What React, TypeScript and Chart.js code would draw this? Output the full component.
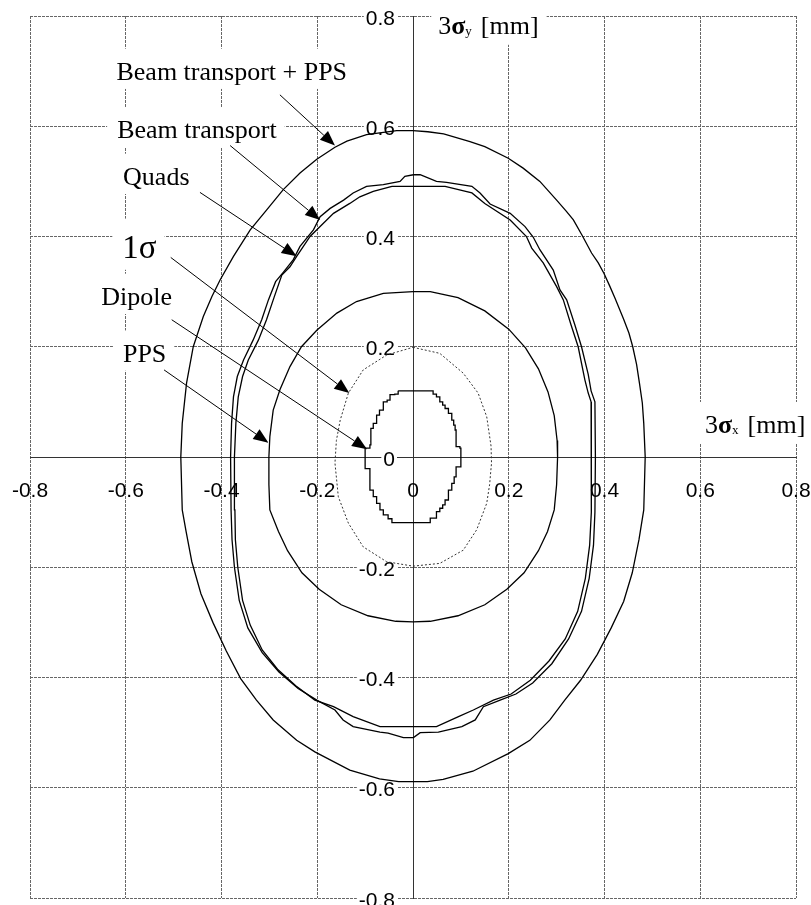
import React, { useEffect, useRef } from 'react';
import { Chart, registerables } from 'chart.js';

Chart.register(...registerables);

// ---------- data (values in mm) ----------
const beamTransportPPS: number[][] = [
  [0, 0.592], [0.031, 0.590], [0.064, 0.586], [0.119, 0.572], [0.150, 0.563], [0.199, 0.542],
  [0.230, 0.524], [0.265, 0.500], [0.300, 0.466], [0.320, 0.446], [0.335, 0.430], [0.354, 0.401],
  [0.373, 0.370], [0.387, 0.352], [0.399, 0.333], [0.411, 0.310], [0.422, 0.288], [0.440, 0.250],
  [0.451, 0.225], [0.459, 0.200], [0.467, 0.168], [0.473, 0.134], [0.479, 0.098], [0.482, 0.061],
  [0.485, 0.000], [0.482, -0.096], [0.472, -0.150], [0.458, -0.210], [0.440, -0.262], [0.414, -0.310],
  [0.385, -0.358], [0.350, -0.405], [0.317, -0.441], [0.286, -0.477], [0.244, -0.514], [0.199, -0.538],
  [0.125, -0.570], [0.063, -0.585], [0.030, -0.589], [-0.030, -0.589], [-0.070, -0.584], [-0.132, -0.568],
  [-0.205, -0.535], [-0.243, -0.514], [-0.292, -0.477], [-0.327, -0.441], [-0.360, -0.402], [-0.390, -0.352],
  [-0.418, -0.300], [-0.443, -0.248], [-0.462, -0.190], [-0.474, -0.135], [-0.482, -0.096], [-0.485, 0.000],
  [-0.482, 0.061], [-0.473, 0.134], [-0.459, 0.200], [-0.438, 0.255], [-0.420, 0.291], [-0.403, 0.321],
  [-0.375, 0.364], [-0.340, 0.412], [-0.306, 0.448], [-0.271, 0.485], [-0.236, 0.515], [-0.201, 0.540],
  [-0.163, 0.562], [-0.138, 0.573], [-0.097, 0.585], [-0.034, 0.592], [0, 0.592],
];

const beamTransport: number[][] = [
  [0.001, 0.512], [0.015, 0.512], [0.049, 0.500], [0.070, 0.498], [0.123, 0.491], [0.140, 0.479],
  [0.161, 0.459], [0.203, 0.442], [0.234, 0.418], [0.251, 0.399], [0.265, 0.376], [0.293, 0.339],
  [0.307, 0.303], [0.321, 0.285], [0.338, 0.240], [0.352, 0.200], [0.366, 0.150], [0.372, 0.120],
  [0.380, 0.100], [0.381, 0.000], [0.380, -0.100], [0.377, -0.160], [0.368, -0.220], [0.352, -0.280],
  [0.325, -0.330], [0.290, -0.375], [0.250, -0.410], [0.215, -0.430], [0.182, -0.441], [0.147, -0.453],
  [0.130, -0.477], [0.102, -0.489], [0.053, -0.499], [0.015, -0.500], [0.001, -0.509], [-0.020, -0.509],
  [-0.052, -0.501], [-0.069, -0.499], [-0.125, -0.489], [-0.146, -0.477], [-0.163, -0.459], [-0.201, -0.441],
  [-0.240, -0.420], [-0.280, -0.390], [-0.315, -0.355], [-0.345, -0.310], [-0.363, -0.260], [-0.373, -0.200],
  [-0.378, -0.150], [-0.380, -0.096], [-0.381, 0.000], [-0.379, 0.061], [-0.375, 0.109], [-0.367, 0.146],
  [-0.354, 0.176], [-0.334, 0.212], [-0.316, 0.249], [-0.302, 0.285], [-0.287, 0.318], [-0.271, 0.335],
  [-0.250, 0.358], [-0.236, 0.382], [-0.208, 0.412], [-0.194, 0.436], [-0.173, 0.451], [-0.145, 0.466],
  [-0.125, 0.479], [-0.097, 0.491], [-0.062, 0.494], [-0.027, 0.500], [-0.017, 0.509], [0.001, 0.512],
];

const quads: number[][] = [
  [-0.044, 0.491], [0.067, 0.491], [0.123, 0.479], [0.150, 0.460], [0.203, 0.430], [0.237, 0.400],
  [0.248, 0.379], [0.272, 0.352], [0.300, 0.309], [0.314, 0.285], [0.330, 0.240], [0.345, 0.200],
  [0.359, 0.140], [0.366, 0.116], [0.372, 0.100], [0.373, 0.000], [0.372, -0.100], [0.369, -0.160],
  [0.360, -0.220], [0.344, -0.280], [0.318, -0.330], [0.284, -0.370], [0.245, -0.405], [0.205, -0.430],
  [0.168, -0.441], [0.126, -0.459], [0.095, -0.471], [0.049, -0.489], [-0.069, -0.489], [-0.125, -0.471],
  [-0.166, -0.453], [-0.205, -0.441], [-0.245, -0.415], [-0.283, -0.385], [-0.315, -0.350], [-0.340, -0.305],
  [-0.356, -0.260], [-0.366, -0.200], [-0.371, -0.150], [-0.372, -0.096], [-0.373, 0.000], [-0.370, 0.061],
  [-0.365, 0.109], [-0.356, 0.146], [-0.344, 0.176], [-0.323, 0.212], [-0.306, 0.249], [-0.290, 0.290],
  [-0.274, 0.330], [-0.257, 0.345], [-0.243, 0.364], [-0.215, 0.400], [-0.194, 0.418], [-0.166, 0.442],
  [-0.132, 0.460], [-0.111, 0.472], [-0.083, 0.482], [-0.044, 0.491],
];

const pps: number[][] = [
  [0, 0.300], [0.036, 0.300], [0.094, 0.289], [0.150, 0.265], [0.200, 0.232], [0.235, 0.198],
  [0.262, 0.160], [0.282, 0.118], [0.295, 0.075], [0.301, 0.030], [0.302, 0.000], [0.300, -0.050],
  [0.295, -0.096], [0.281, -0.135], [0.262, -0.170], [0.232, -0.210], [0.196, -0.240], [0.150, -0.268],
  [0.094, -0.288], [0.036, -0.298], [0, -0.299], [-0.036, -0.298], [-0.094, -0.288], [-0.150, -0.268],
  [-0.196, -0.240], [-0.232, -0.210], [-0.262, -0.170], [-0.281, -0.135], [-0.299, -0.096], [-0.301, -0.050],
  [-0.301, 0.000], [-0.299, 0.037], [-0.292, 0.085], [-0.278, 0.122], [-0.257, 0.164], [-0.233, 0.200],
  [-0.201, 0.230], [-0.159, 0.261], [-0.118, 0.282], [-0.062, 0.297], [0, 0.300],
];

const oneSigma: number[][] = [
  [0, 0.199], [0.056, 0.188], [0.105, 0.152], [0.136, 0.116], [0.154, 0.073], [0.163, 0.020],
  [0.164, -0.011], [0.160, -0.050], [0.154, -0.084], [0.133, -0.132], [0.105, -0.169], [0.056, -0.193],
  [0, -0.198], [-0.055, -0.190], [-0.104, -0.163], [-0.135, -0.120], [-0.156, -0.072], [-0.163, -0.011],
  [-0.160, 0.030], [-0.152, 0.067], [-0.135, 0.116], [-0.104, 0.158], [-0.055, 0.185], [0, 0.199],
];

const dipole: number[][] = [
  [-0.031, 0.120], [0.032, 0.120], [0.042, 0.114], [0.049, 0.109], [0.056, 0.100], [0.062, 0.094],
  [0.067, 0.088], [0.074, 0.079], [0.081, 0.067], [0.085, 0.058], [0.088, 0.049], [0.090, 0.019],
  [0.098, 0.016], [0.100, -0.018], [0.090, -0.021], [0.090, -0.036], [0.086, -0.048], [0.081, -0.060],
  [0.074, -0.078], [0.067, -0.087], [0.062, -0.093], [0.056, -0.099], [0.049, -0.111], [0.036, -0.119],
  [-0.034, -0.119], [-0.044, -0.112], [-0.052, -0.105], [-0.062, -0.096], [-0.069, -0.084], [-0.076, -0.072],
  [-0.083, -0.060], [-0.090, -0.054], [-0.090, -0.021], [-0.100, -0.018], [-0.100, 0.016], [-0.090, 0.022],
  [-0.088, 0.052], [-0.083, 0.061], [-0.076, 0.076], [-0.070, 0.085], [-0.062, 0.088], [-0.062, 0.100],
  [-0.054, 0.103], [-0.048, 0.113], [-0.038, 0.114], [-0.031, 0.120],
];

const xTickValues = [-0.8, -0.6, -0.4, -0.2, 0, 0.2, 0.4, 0.6, 0.8];
const xTickLabels = ['-0.8', '-0.6', '-0.4', '-0.2', '0', '0.2', '0.4', '0.6', '0.8'];
const yTickValues = [0.8, 0.6, 0.4, 0.2, 0, -0.2, -0.4, -0.6, -0.8];
const yTickLabels = ['0.8', '0.6', '0.4', '0.2', '0', '-0.2', '-0.4', '-0.6', '-0.8'];

// annotation texts and arrows (anchors in data units)
const annotationTexts = ['Beam transport + PPS', 'Beam transport', 'Quads', '1σ', 'Dipole', 'PPS'];
const annotationX = [-0.6194, -0.6180, -0.6056, -0.6072, -0.6510, -0.6059];
const annotationY = [0.6842, 0.5784, 0.4936, 0.3606, 0.2759, 0.1730];
const annotationSize = [26, 26, 26, 33, 26, 26];
const arrowFrom = [[-0.278, 0.657], [-0.382, 0.565], [-0.445, 0.480], [-0.506, 0.362], [-0.504, 0.249], [-0.520, 0.158]];
const arrowTo = [[-0.163, 0.565], [-0.194, 0.430], [-0.243, 0.364], [-0.133, 0.116], [-0.096, 0.014], [-0.302, 0.026]];

const axisTitleSub = ['y', 'x'];
const axisTitleX = [0.0527, 0.6097];
const axisTitleY = [0.7677, 0.0436];

const TICK_FONT = '21px "Liberation Sans", Arial, sans-serif';
const SERIF = '"Liberation Serif", "Times New Roman", serif';

const pts = (a: number[][]) => a.map(([x, y]) => ({ x, y }));

const annotationPlugin = {
  id: 'annotations',
  beforeDatasetsDraw(chart: any) {
    const { ctx } = chart;
    const xs = chart.scales.x;
    const ys = chart.scales.y;
    const px = (v: number) => xs.getPixelForValue(v);
    const py = (v: number) => ys.getPixelForValue(v);
    const x0 = px(0);
    const y0 = py(0);
    ctx.save();
    ctx.font = TICK_FONT;
    ctx.textBaseline = 'alphabetic';
    // y tick labels with tight backdrop
    yTickValues.forEach((v, i) => {
      const t = yTickLabels[i];
      const w = ctx.measureText(t).width;
      const right = x0 - 18;
      const base = py(v) + 8.5;
      ctx.fillStyle = '#fff';
      ctx.fillRect(right - w - 2, base - 16, w + 4, 19);
      ctx.fillStyle = '#000';
      ctx.textAlign = 'right';
      ctx.fillText(t, right, base);
    });
    // x tick labels
    ctx.textAlign = 'center';
    ctx.fillStyle = '#000';
    xTickValues.forEach((v, i) => {
      ctx.fillText(xTickLabels[i], px(v), y0 + 40);
    });
    // annotation texts with white boxes
    ctx.textAlign = 'left';
    annotationTexts.forEach((t, i) => {
      const fs = annotationSize[i];
      ctx.font = `${fs}px ${SERIF}`;
      const w = ctx.measureText(t).width;
      const lx = px(annotationX[i]);
      const base = py(annotationY[i]);
      ctx.fillStyle = '#fff';
      ctx.fillRect(lx - 10, base - 1.2 * fs, w + 18, 1.55 * fs);
      ctx.fillStyle = '#000';
      ctx.fillText(t, lx, base);
    });
    // axis titles: 3σ_y [mm], 3σ_x [mm]
    axisTitleSub.forEach((sub, i) => {
      let x = px(axisTitleX[i]);
      const base = py(axisTitleY[i]);
      const start = x;
      ctx.font = `26px ${SERIF}`;
      const w3 = ctx.measureText('3').width;
      ctx.font = `bold 26px ${SERIF}`;
      const ws = ctx.measureText('σ').width;
      ctx.font = `13px ${SERIF}`;
      const wsub = ctx.measureText(sub).width;
      ctx.font = `26px ${SERIF}`;
      const wmm = ctx.measureText('[mm]').width;
      const gap = 9;
      const total = w3 + ws + wsub + gap + wmm;
      ctx.fillStyle = '#fff';
      ctx.fillRect(start - 7, base - 31, total + 15, 42);
      ctx.fillStyle = '#000';
      ctx.font = `26px ${SERIF}`;
      ctx.fillText('3', x, base);
      x += w3;
      ctx.font = `bold 26px ${SERIF}`;
      ctx.fillText('σ', x, base);
      x += ws;
      ctx.font = `13px ${SERIF}`;
      ctx.fillText(sub, x, base + 1);
      x += wsub + gap;
      ctx.font = `26px ${SERIF}`;
      ctx.fillText('[mm]', x, base);
    });
    ctx.restore();
  },
  afterDatasetsDraw(chart: any) {
    const { ctx } = chart;
    const xs = chart.scales.x;
    const ys = chart.scales.y;
    ctx.save();
    ctx.strokeStyle = '#000';
    ctx.fillStyle = '#000';
    ctx.lineWidth = 1;
    arrowFrom.forEach((f, i) => {
      const x1 = xs.getPixelForValue(f[0]);
      const y1 = ys.getPixelForValue(f[1]);
      const x2 = xs.getPixelForValue(arrowTo[i][0]);
      const y2 = ys.getPixelForValue(arrowTo[i][1]);
      const dx = x2 - x1;
      const dy = y2 - y1;
      const len = Math.hypot(dx, dy);
      const ux = dx / len;
      const uy = dy / len;
      const L = 15;
      const W = 6;
      const bx = x2 - ux * L;
      const by = y2 - uy * L;
      ctx.beginPath();
      ctx.moveTo(x1, y1);
      ctx.lineTo(bx, by);
      ctx.stroke();
      ctx.beginPath();
      ctx.moveTo(x2, y2);
      ctx.lineTo(bx - uy * W, by + ux * W);
      ctx.lineTo(bx + uy * W, by - ux * W);
      ctx.closePath();
      ctx.fill();
    });
    ctx.restore();
  },
};

export default function App() {
  const ref = useRef<HTMLCanvasElement | null>(null);
  useEffect(() => {
    if (!ref.current) return;
    const line = (label: string, data: number[][], extra: any = {}) => ({
      label,
      data: pts(data),
      showLine: true,
      borderColor: '#000',
      borderWidth: 1.3,
      pointRadius: 0,
      pointHoverRadius: 0,
      fill: false,
      tension: 0,
      ...extra,
    });
    const chart = new Chart(ref.current, {
      type: 'scatter',
      data: {
        datasets: [
          line('Beam transport + PPS', beamTransportPPS),
          line('Beam transport', beamTransport),
          line('Quads', quads),
          line('PPS', pps),
          line('1σ', oneSigma, { borderDash: [2, 2], borderWidth: 1, borderColor: '#333' }),
          line('Dipole', dipole, { stepped: 'before' }),
        ],
      },
      options: {
        animation: false,
        responsive: true,
        maintainAspectRatio: false,
        events: [],
        layout: { padding: { left: 30, top: 16, right: 15, bottom: 7 } },
        plugins: { legend: { display: false }, tooltip: { enabled: false } },
        scales: {
          x: {
            type: 'linear',
            min: -0.8,
            max: 0.8,
            position: { y: 0 } as any,
            ticks: { stepSize: 0.2, display: false },
            grid: { color: '#666', lineWidth: 1, drawTicks: false },
            border: { display: true, color: '#333', width: 1, dash: [3, 1] },
          },
          y: {
            type: 'linear',
            min: -0.8,
            max: 0.8,
            position: { x: 0 } as any,
            ticks: { stepSize: 0.2, display: false },
            grid: { color: '#666', lineWidth: 1, drawTicks: false },
            border: { display: true, color: '#333', width: 1, dash: [3, 1] },
          },
        },
      } as any,
      plugins: [annotationPlugin],
    });
    return () => chart.destroy();
  }, []);
  return (
    <div style={{ position: 'absolute', left: 0, top: 0, width: 811, height: 905, background: '#fff' }}>
      <canvas ref={ref} />
    </div>
  );
}
